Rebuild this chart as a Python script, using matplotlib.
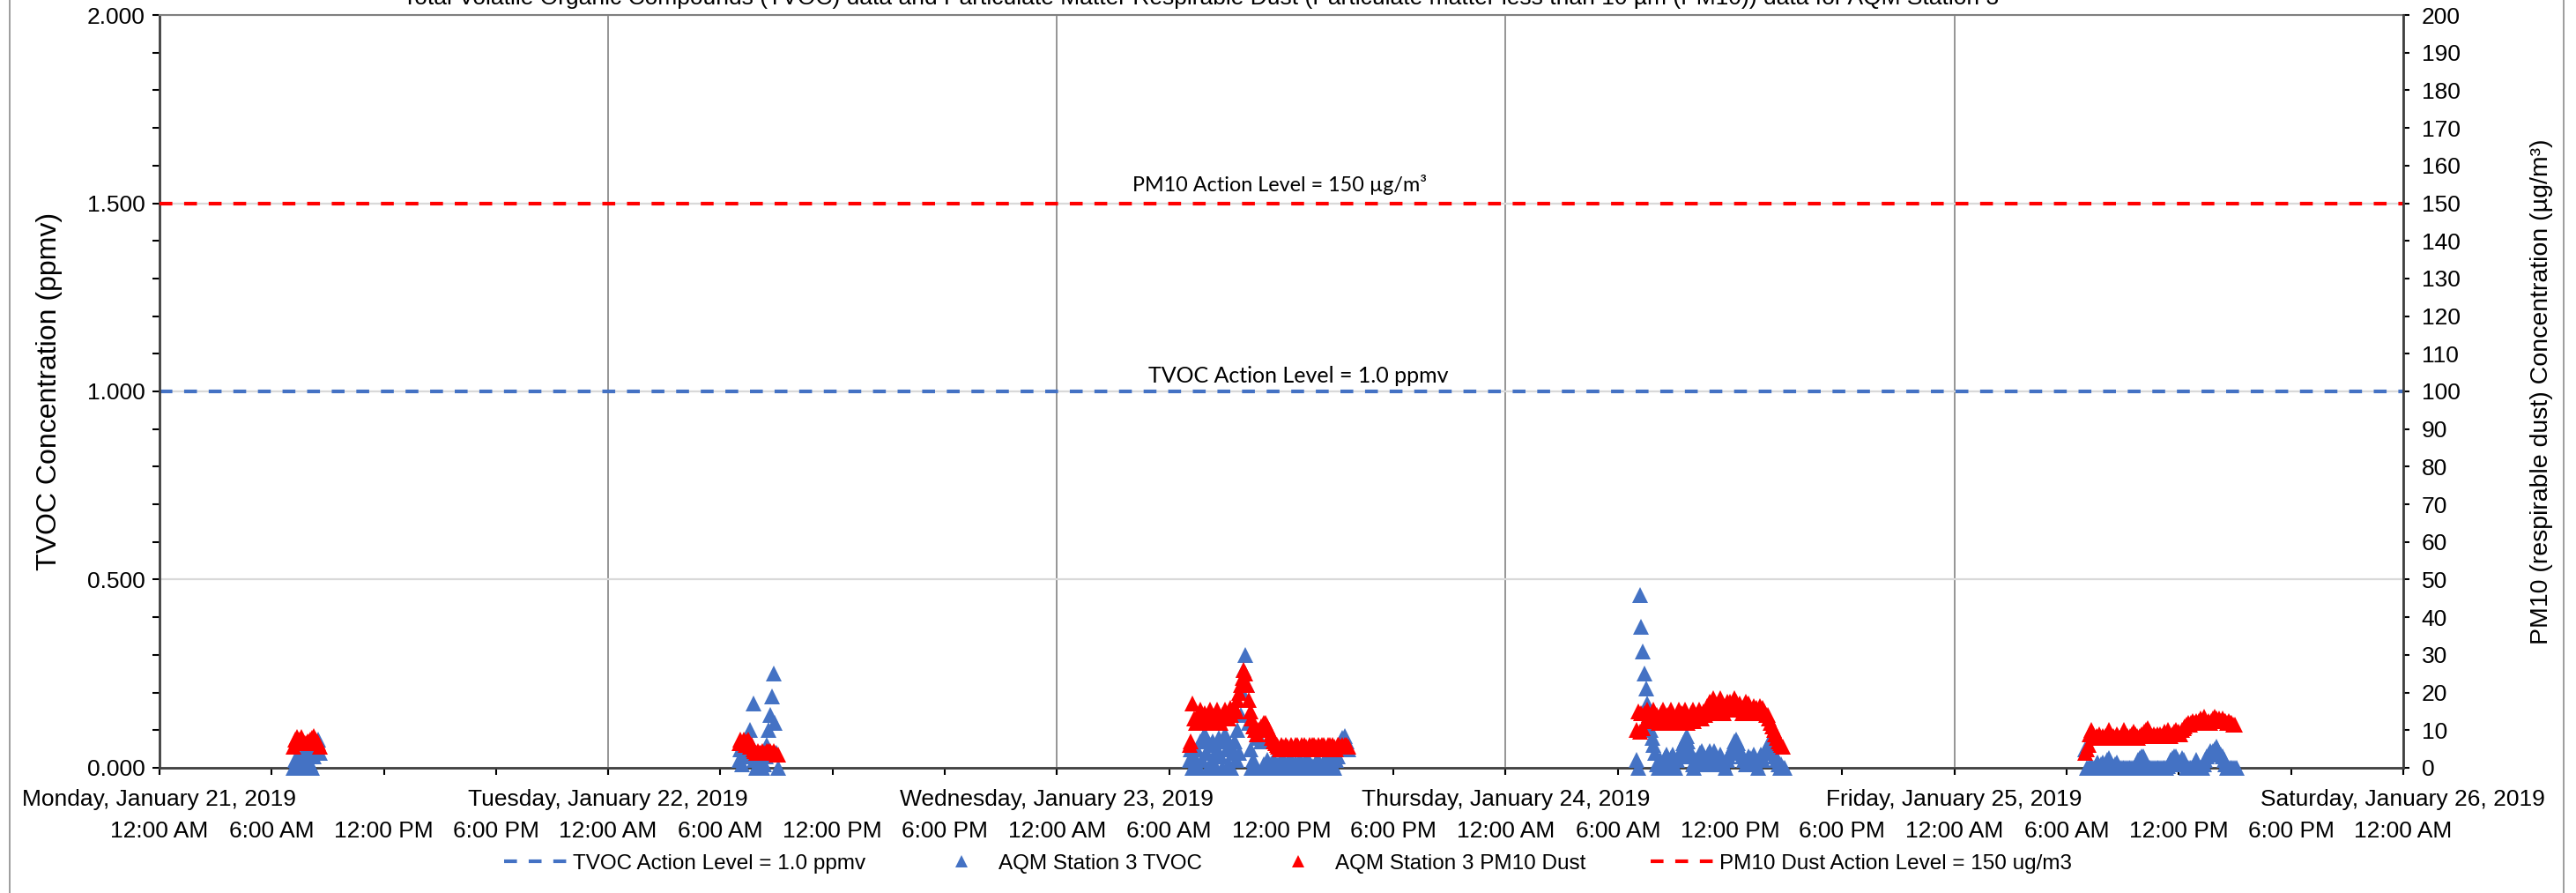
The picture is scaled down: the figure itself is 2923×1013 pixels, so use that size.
import matplotlib
matplotlib.use("Agg")
import matplotlib.pyplot as plt
import matplotlib.dates as mdates
import pandas as pd
from matplotlib.lines import Line2D
from matplotlib.patches import Rectangle
from matplotlib.ticker import MultipleLocator, FuncFormatter, FormatStrFormatter

plt.rcParams["font.family"] = ["Liberation Sans", "DejaVu Sans"]

BLUE = "#4472C4"
RED = "#FF0000"

x_start = "2019-01-21 00:00"
x_end = "2019-01-26 00:00"

tvoc_action = 1.0
pm10_action = 150

# start of each monitoring run, readings every 5 minutes
run_starts = ["2019-01-21 07:10", "2019-01-22 07:00", "2019-01-23 07:05",
              "2019-01-24 07:00", "2019-01-25 07:00"]

tvoc_jan21 = [0.0, 0.02, 0.0, 0.03, 0.01, 0.0, 0.04, 0.02, 0.0, 0.03, 0.05, 0.01,
              0.0, 0.03, 0.05, 0.07, 0.075, 0.04]
pm10_jan21 = [5.5, 7.5, 8.3, 7, 7.5, 8.3, 7, 6.5, 6.5, 7, 7, 7.5, 8, 8.5, 7.5, 7,
              6.5, 5.5]

tvoc_jan22 = [0.02, 0.05, 0.01, 0.06, 0.03, 0.08, 0.04, 0.1, 0.06, 0.17, 0.02, 0.0,
              0.01, 0.0, 0.02, 0.0, 0.01, 0.03, 0.06, 0.1, 0.14, 0.19, 0.25, 0.12,
              0.04, 0.0]
pm10_jan22 = [6.5, 7.5, 6.5, 7.5, 6, 7, 7.5, 5.5, 6, 5, 4.5, 4, 4.5, 4, 4, 4.5, 4,
              4, 4.5, 4.5, 4.5, 4, 4.5, 4, 3.6, 3.6]

tvoc_jan23 = [0.02, 0.05, 0.0, 0.03, 0.01,
              0.05, 0.0, 0.07, 0.02, 0.08, 0.09, 0.04, 0.0, 0.06, 0.01, 0.07, 0.03,
              0.0, 0.05, 0.08, 0.03, 0.0, 0.07, 0.09, 0.05, 0.01, 0.06, 0.0, 0.04,
              0.07, 0.02, 0.1, 0.04, 0.14, 0.2, 0.26, 0.3, 0.22, 0.12, 0.05, 0.0,
              0.02, 0.0,
              0.09, 0.08, 0.1, 0.07, 0.0, 0.01, 0.0, 0.02, 0.0, 0.01, 0.0, 0.02, 0.0,
              0.01,
              0.0, 0.015, 0.0, 0.02, 0.005, 0.0, 0.015, 0.0, 0.02, 0.005, 0.0, 0.015,
              0.0, 0.01, 0.02, 0.0, 0.005, 0.015, 0.0, 0.02, 0.0, 0.01, 0.005, 0.0,
              0.015, 0.02, 0.0, 0.01, 0.0, 0.005, 0.02, 0.0, 0.015, 0.0, 0.02, 0.01,
              0.0, 0.02, 0.03, 0.05, 0.07, 0.08, 0.06, 0.085, 0.07, 0.05]
pm10_jan23 = [6, 7, 17, 13, 12,
              13, 12, 15.5, 13, 12, 14.5, 13, 12, 15.5, 14, 13, 12, 14.5, 15.5, 13, 12,
              14, 13, 15.5, 14, 13, 16, 14, 15,
              16, 15, 18, 20, 22, 24, 26, 25, 22, 18, 15, 13, 11, 10,
              9, 10, 10, 11, 11, 12, 12, 11, 10, 9, 8, 7, 6.5, 6,
              5.5, 5, 6, 5.5, 5, 6, 5.5, 5, 6, 5.5, 5, 6, 6, 5.5, 5, 6, 5.5, 6, 5.5,
              5, 6, 5.5, 6, 6, 5.5, 5, 6, 5.5, 6, 6, 5.5, 5, 6, 6, 5.5, 6, 5.5, 5, 6,
              6, 5.5, 6, 5.5, 6, 6, 5.5]

tvoc_jan24 = [0.02, 0.0, 0.46, 0.375, 0.31, 0.25, 0.21, 0.17, 0.14, 0.1, 0.08, 0.06,
              0.04,
              0.01, 0.0, 0.02, 0.01, 0.0, 0.025, 0.035, 0.01, 0.0, 0.025, 0.035, 0.01,
              0.0, 0.02, 0.03, 0.04, 0.05, 0.065, 0.075, 0.085, 0.07, 0.05, 0.03,
              0.01, 0.0, 0.02, 0.01, 0.03, 0.04, 0.045,
              0.03, 0.02, 0.01, 0.035, 0.045, 0.02, 0.03, 0.045, 0.025, 0.01, 0.02,
              0.035, 0.02, 0.01, 0.0, 0.02, 0.03, 0.04,
              0.05, 0.06, 0.07, 0.075, 0.065, 0.05, 0.04, 0.03, 0.02, 0.01, 0.02,
              0.03,
              0.025, 0.02, 0.035, 0.02, 0.01, 0.0, 0.02, 0.035, 0.02, 0.04, 0.05, 0.06,
              0.065, 0.06, 0.05, 0.04, 0.03, 0.02, 0.01, 0.0, 0.01, 0.0, 0.0]
pm10_jan24 = [10, 15, 9.5, 14.5, 10.5,
              14.5, 12.5, 15.5, 14, 12.5, 14, 15.5, 12.5, 14, 12, 13, 14.5, 15.5, 13,
              12, 14, 13, 15.5, 14, 12.5, 12, 14, 15.5, 13, 14.5, 12.5, 15.5, 14, 12,
              13, 14.5, 15.5, 12.5, 14, 13, 15.5, 14, 13,
              15, 14, 16.5, 14.5, 17.5, 15.5, 18.5, 16, 14.5, 16, 17.5, 18.5, 15.5,
              14.5, 16, 17.5, 15.5, 17.5, 16, 17.5, 18.5, 17.5, 15.5, 17, 16, 14.5,
              16, 17.5, 15.5, 17, 16, 15, 16.5, 14.5, 16, 15, 16.5, 15, 16,
              15, 14, 14, 13, 12, 11, 10, 9, 8, 7, 6.5, 6, 5.5]

tvoc_jan25 = [0.05, 0.0, 0.0, 0.0, 0.005, 0.0, 0.0, 0.01, 0.015, 0.0, 0.01, 0.015,
              0.005, 0.01, 0.02, 0.025, 0.015, 0.005, 0.0, 0.01, 0.015, 0.005, 0.0,
              0.0, 0.0, 0.0, 0.0, 0.0, 0.0, 0.0, 0.0, 0.0, 0.005, 0.01, 0.02, 0.025,
              0.03, 0.03, 0.02, 0.01, 0.0, 0.0, 0.0, 0.0, 0.0, 0.0, 0.0, 0.0, 0.0,
              0.0, 0.0, 0.0, 0.0, 0.005, 0.01, 0.02, 0.025, 0.03, 0.03, 0.02, 0.01,
              0.015, 0.025, 0.02, 0.01, 0.0, 0.0, 0.0, 0.0, 0.0, 0.01, 0.02, 0.015,
              0.0, 0.0, 0.0, 0.01, 0.02, 0.03, 0.035, 0.045, 0.04, 0.045, 0.05, 0.055,
              0.05, 0.04, 0.035, 0.03, 0.02, 0.01, 0.0, 0.0, 0.0, 0.0, 0.0, 0.0, 0.0]
pm10_jan25 = [4, 5, 6,
              9, 10, 9, 8, 8.5, 8, 9, 8, 8.5, 8, 8.5, 9, 10, 9, 8, 8.5, 8, 9, 8.5, 8,
              8.5, 9, 10, 9, 8.5, 8, 8.5, 9, 9.5, 9, 8.5, 8, 8.5, 9, 9, 9.5, 10, 10.5,
              9.5, 9, 8.5, 9, 8.5, 9, 8.5, 9, 8.5, 9, 9.5, 9, 10, 9, 8.5, 9, 9.5, 10,
              9, 9.5, 9, 10, 10.5, 11, 11.5, 12,
              11.5, 12, 12.5, 12, 12.5, 12, 12.5, 13, 12.5, 13.5, 12.5, 12, 12.5, 12,
              12.5, 13, 13.5, 13, 12.5, 13, 12.5, 13, 12.5, 12.5, 12, 12.5, 12, 12,
              11.5, 11.5]

title = ("Total Volatile Organic Compounds (TVOC) data and Particulate Matter Respirable Dust "
         "(Particulate matter less than 10 \u00b5m (PM10)) data for AQM Station 3")


def stitch(runs):
    times, vals = [], []
    for start, run in zip(run_starts, runs):
        t = pd.date_range(start, periods=len(run), freq="5min")
        times.extend(t.to_pydatetime())
        vals.extend(run)
    return times, vals


tvoc_t, tvoc_v = stitch([tvoc_jan21, tvoc_jan22, tvoc_jan23, tvoc_jan24, tvoc_jan25])
pm_t, pm_v = stitch([pm10_jan21, pm10_jan22, pm10_jan23, pm10_jan24, pm10_jan25])

fig = plt.figure(figsize=(29.23, 10.13), dpi=100)
ax = fig.add_axes([0.0619, 0.1402, 0.8710, 0.8430])
ax2 = ax.twinx()

ax.set_axisbelow(True)
ax.grid(axis="y", which="major", color="#D9D9D9", lw=1.6)
ax.grid(axis="x", which="major", color="#8C8C8C", lw=1.3)

dash = (0, (3.5, 3.2))
ms = 13.5
ax.axhline(tvoc_action, color=BLUE, lw=3, ls=dash)
ax.plot(tvoc_t, tvoc_v, ls="none", marker="^", ms=ms, color=BLUE,
        mew=0, clip_on=False, zorder=3)
ax2.plot(pm_t, pm_v, ls="none", marker="^", ms=ms, color=RED,
         mew=0, clip_on=False, zorder=3)
ax2.axhline(pm10_action, color=RED, lw=3, ls=dash)

ax.text(0.4992, 1.55, "PM10 Action Level = 150 \u00b5g/m\u00b3", ha="center", va="center",
        fontsize=16.8, family="Lato", transform=ax.get_yaxis_transform())
ax.text(0.5075, 1.04, "TVOC Action Level = 1.0 ppmv", ha="center", va="center",
        fontsize=18, family="Lato", transform=ax.get_yaxis_transform())

ax.set_xlim(pd.Timestamp(x_start), pd.Timestamp(x_end))
ax.set_ylim(0, 2)
ax2.set_ylim(0, 200)

ax.yaxis.set_major_locator(MultipleLocator(0.5))
ax.yaxis.set_minor_locator(MultipleLocator(0.1))
ax.yaxis.set_major_formatter(FormatStrFormatter("%.3f"))
ax2.yaxis.set_major_locator(MultipleLocator(10))


def day_fmt(x, pos):
    d = mdates.num2date(x)
    return d.strftime("%A, %B ") + str(d.day) + d.strftime(", %Y")


def hour_fmt(x, pos):
    return mdates.num2date(x).strftime("%I:%M %p").lstrip("0")


ax.xaxis.set_major_locator(mdates.DayLocator())
ax.xaxis.set_major_formatter(FuncFormatter(day_fmt))
ax.xaxis.set_minor_locator(mdates.HourLocator(byhour=[0, 6, 12, 18]))
ax.xaxis.set_minor_formatter(FuncFormatter(hour_fmt))
ax.xaxis.remove_overlapping_locs = False

ax.tick_params(axis="x", which="major", direction="out", length=6, width=1.5,
               labelsize=19, pad=11)
ax.tick_params(axis="x", which="minor", direction="out", length=6, width=1.5,
               labelsize=19, pad=37)
ax.tick_params(axis="y", which="both", direction="out", length=6, width=1.5,
               labelsize=19, pad=6)
ax2.tick_params(axis="y", direction="out", length=5, width=1.5, labelsize=19, pad=10)

ax.set_ylabel("TVOC Concentration (ppmv)", fontsize=23)
ax.yaxis.set_label_coords(-0.043, 0.5)
ax2.set_ylabel("PM10 (respirable dust) Concentration (\u00b5g/m\u00b3)", fontsize=20.5)
ax2.yaxis.set_label_coords(1.0566, 0.5)

for side in ["left", "bottom"]:
    ax.spines[side].set_color("#404040")
    ax.spines[side].set_linewidth(2)
ax.spines["top"].set_color("#7F7F7F")
ax.spines["top"].set_linewidth(1.5)
ax.spines["right"].set_visible(False)
for side in ["left", "bottom", "top"]:
    ax2.spines[side].set_visible(False)
ax2.spines["right"].set_color("#404040")
ax2.spines["right"].set_linewidth(2)

handles = [
    Line2D([], [], color=BLUE, lw=3, ls=dash),
    Line2D([], [], ls="none", marker="^", ms=10.5, color=BLUE, mew=0),
    Line2D([], [], ls="none", marker="^", ms=10.5, color=RED, mew=0),
    Line2D([], [], color=RED, lw=3, ls=dash),
]
labels = ["TVOC Action Level = 1.0 ppmv", "AQM Station 3 TVOC",
          "AQM Station 3 PM10 Dust", "PM10 Dust Action Level = 150 ug/m3"]
fig.legend(handles, labels, loc="center", bbox_to_anchor=(0.5, 0.033), ncol=4,
           frameon=False, fontsize=17.5, handlelength=2.96, handletextpad=0.25,
           columnspacing=3.0)

fig.text(457 / 2923, 1 - 5 / 1013, title, ha="left", va="baseline", fontsize=19)

fig.patches.append(Rectangle((11 / 2923, -0.05), (2909 - 11) / 2923, 1.2,
                             transform=fig.transFigure, fill=False,
                             ec="#8C8C8C", lw=1.2))

fig.savefig("out.png", dpi=100)
